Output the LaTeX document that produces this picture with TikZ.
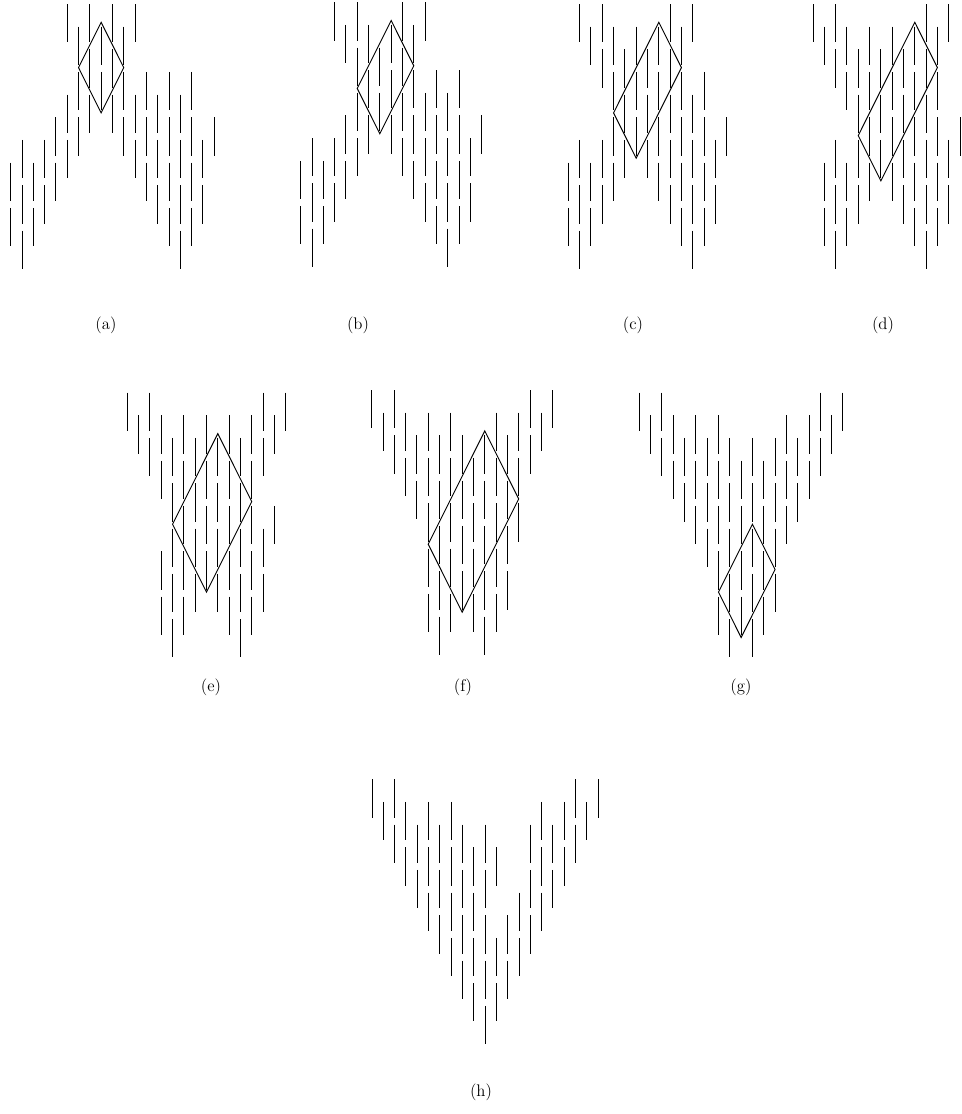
\documentclass[tikz,border=0pt]{standalone}
\begin{document}
\begin{tikzpicture}[x=0.75pt,y=-0.75pt,
  seg/.style={line width=0.7pt,black},
  dia/.style={line width=0.7pt,black,line join=miter},
  lab/.style={font=\fontsize{12.6}{15}\selectfont,inner sep=0pt}]
\useasboundingbox (0,0) rectangle (961,1114);
\def\dx{11.31}\def\dy{22.65}\def\sl{38.3}\def\gy{18.3}
% #1 origin x, #2 origin y, #3 column list
\newcommand\segpanel[3]{%
  \begin{scope}[shift={(#1,#2)}]
  \foreach \c/\ks in {#3}{
    \foreach \k in \ks {
      \draw[seg] (\c*\dx,\k*\dy) -- ++(0,\sl);
    }
  }
  \end{scope}}
\newcommand\diapanel[6]{%
  \begin{scope}[shift={(#1,#2)}]
  \draw[dia] #3 -- #4 -- #5 -- #6 -- cycle;
  \end{scope}}
\newcommand\vx[2]{({#1*\dx},{#2*\dy+\gy})}
% (a)
\segpanel{10.67}{4}{0/{7,9},1/{6,8,10},2/{7,9},3/{6,8},4/{5,7},5/{0,4,6},6/{1,3,5},7/{0,2,4},8/{1,3},9/{0,2,4},10/{1,3,5},11/{0,4,6},12/{3,5,7},13/{4,6,8},14/{3,5,7,9},15/{4,6,8,10},16/{3,5,7,9},17/{6,8},18/{5}}
\diapanel{10.67}{4}{\vx{8}{0}}{\vx{10}{2}}{\vx{8}{4}}{\vx{6}{2}}
% (b)
\segpanel{300.67}{2.2}{0/{7,9},1/{6,8,10},2/{7,9},3/{0,6,8},4/{1,5,7},5/{0,2,4,6},6/{1,3,5},7/{2,4},8/{1,3,5},9/{0,2,4,6},10/{1,3,5,7},11/{0,4,6,8},12/{3,5,7,9},13/{4,6,8,10},14/{3,5,7,9},15/{6,8},16/{5}}
\diapanel{300.67}{2.2}{\vx{8}{0}}{\vx{10}{2}}{\vx{7}{5}}{\vx{5}{3}}
% (c)
\segpanel{568.33}{4}{0/{7,9},1/{0,6,8,10},2/{1,7,9},3/{0,2,6,8},4/{1,3,5,7},5/{2,4,6},6/{1,3,5},7/{2,4,6},8/{1,3,5,7},9/{0,2,4,6,8},10/{1,3,5,7,9},11/{0,4,6,8,10},12/{3,5,7,9},13/{6,8},14/{5}}
\diapanel{568.33}{4}{\vx{8}{0}}{\vx{10}{2}}{\vx{6}{6}}{\vx{4}{4}}
% (d)
\segpanel{813}{4}{0/{0},1/{1,7,9},2/{0,2,6,8,10},3/{1,3,7,9},4/{2,4,6,8},5/{1,3,5,7},6/{2,4,6},7/{1,3,5,7},8/{2,4,6,8},9/{1,3,5,7,9},10/{0,2,4,6,8,10},11/{1,3,5,7,9},12/{0,6,8},13/{5}}
\diapanel{813}{4}{\vx{9}{0}}{\vx{11}{2}}{\vx{6}{7}}{\vx{4}{5}}
% (e)
\segpanel{127.33}{392.67}{0/{0},1/{1},2/{0,2},3/{1,3,7,9},4/{2,4,6,8,10},5/{1,3,5,7,9},6/{2,4,6,8},7/{1,3,5,7},8/{2,4,6,8},9/{1,3,5,7,9},10/{2,4,6,8,10},11/{1,3,5,7,9},12/{0,2,6,8},13/{1,5},14/{0}}
\diapanel{127.33}{392.67}{\vx{8}{1}}{\vx{11}{4}}{\vx{7}{8}}{\vx{4}{5}}
% (f)
\segpanel{371.67}{390}{0/{0},1/{1},2/{0,2},3/{1,3},4/{2,4},5/{1,3,5,7,9},6/{2,4,6,8,10},7/{1,3,5,7,9},8/{2,4,6,8},9/{3,5,7,9},10/{2,4,6,8,10},11/{1,3,5,7,9},12/{2,4,6,8},13/{1,3,5},14/{0,2},15/{1},16/{0}}
\diapanel{371.67}{390}{\vx{10}{1}}{\vx{13}{4}}{\vx{8}{9}}{\vx{5}{6}}
% (g)
\segpanel{639.33}{392.67}{0/{0},1/{1},2/{0,2},3/{1,3},4/{2,4},5/{1,3,5},6/{2,4,6},7/{1,3,5,7,9},8/{2,4,6,8,10},9/{3,5,7,9},10/{2,4,6,8,10},11/{3,5,7,9},12/{2,4,6,8},13/{1,3,5},14/{2,4},15/{1,3},16/{0,2},17/{1},18/{0}}
\diapanel{639.33}{392.67}{\vx{10}{5}}{\vx{12}{7}}{\vx{9}{10}}{\vx{7}{8}}
% (h)
\segpanel{372}{779.33}{0/{0},1/{1},2/{0,2},3/{1,3},4/{2,4},5/{1,3,5},6/{2,4,6},7/{1,3,5,7},8/{2,4,6,8},9/{3,5,7,9},10/{2,4,6,8,10},11/{3,7,9},12/{6,8},13/{5,7},14/{2,4,6},15/{1,3,5},16/{2,4},17/{1,3},18/{0,2},19/{1},20/{0}}
% labels
\node[lab] (la) at (106,325) {(a)};
\node[lab] (lb) at (358,325) {(b)};
\node[lab] (lc) at (633,325) {(c)};
\node[lab] (ld) at (883,325) {(d)};
\node[lab] (le) at (211,687) {(e)};
\node[lab] (lf) at (463,687) {(f)};
\node[lab] (lg) at (741,687) {(g)};
\node[lab] (lh) at (481,1092) {(h)};
\end{tikzpicture}
\end{document}
